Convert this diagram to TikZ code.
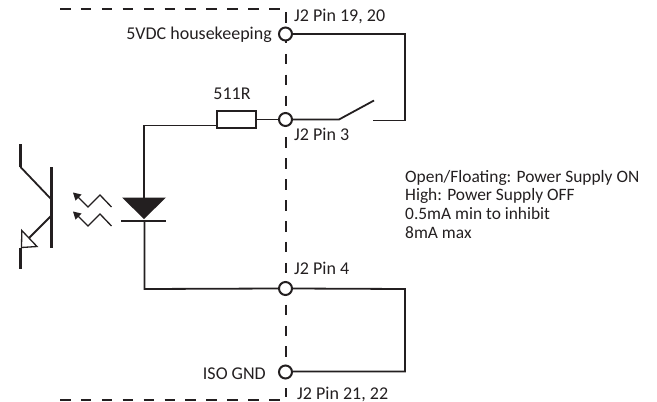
\documentclass[tikz,border=0pt]{standalone}
\usepackage{fontspec}
\setmainfont{Carlito}
\definecolor{ink}{HTML}{231F20}
\tikzset{
 wire/.style={draw=ink,line width=1.8pt},
 thick wire/.style={draw=ink,line width=2.8pt},
 bus/.style={draw=ink,line width=2pt,dash pattern=on 10.5pt off 10.4pt},
 pin/.style={circle,draw=ink,fill=white,line width=2pt,minimum size=13pt,inner sep=0pt},
 lbl/.style={inner sep=0pt,text=ink,font=\fontsize{18}{20}\selectfont},
 note/.style={inner sep=0pt,text=ink,font=\fontsize{17.4}{20}\selectfont,anchor=base west}
}
\begin{document}
\begin{tikzpicture}[x=1pt,y=-1pt]
\useasboundingbox (0,0) rectangle (657,402);
% connector frame
\coordinate (tl) at (60,9);
\coordinate (tr) at (280,9);
\coordinate (bl) at (60,400);
\coordinate (br) at (280,400);
\coordinate (bt) at (285.5,12);
\coordinate (bb) at (285.5,397);
\draw[bus] (tl) -- (tr);
\draw[bus] (bl) -- (br);
\draw[bus] (bt) -- (bb);
% pins
\node[pin] (p5) at (285.5,34) {};
\node[pin] (p3) at (285.5,119.5) {};
\node[pin] (p4) at (285.5,288.5) {};
\node[pin] (pg) at (285.5,372) {};
% right wires
\coordinate (c1) at (405,34);
\coordinate (c2) at (405,120.5);
\coordinate (sw1) at (373,120.5);
\coordinate (sw2) at (339,119.5);
\coordinate (sw3) at (374,100.5);
\draw[wire] (p5) -- (c1) -- (c2) -- (sw1);
\draw[wire] (p3) -- (sw2) -- (sw3);
\coordinate (c3) at (405,289);
\coordinate (c4) at (405,371.5);
\draw[wire] (p4.east) -- (c3) -- (c4) -- (pg.east |- c4);
% resistor
\node[draw=ink,line width=1.7pt,minimum width=39pt,minimum height=17pt,inner sep=0pt] (r) at (236.5,119.5) {};
\draw[wire] (r.east) -- (p3.west);
\coordinate (a1) at (144,125.5);
\coordinate (ra) at (r.west |- a1);
\coordinate (d1) at (144,200);
\draw[wire] (ra) -- (a1) -- (d1);
% diode
\fill[ink] (122,197.5) -- (166,197.5) -- (144,219) -- cycle;
\coordinate (b1) at (121,221);
\coordinate (b2) at (166,221);
\draw[thick wire] (b1) -- (b2);
\coordinate (d2) at (144.5,221);
\coordinate (d3) at (144.5,289);
\draw[wire] (d2) -- (d3) -- (p4.west);
% light arrows
\fill[ink] (73,192.5) -- (81.5,194.5) -- (75.5,200.5) -- cycle;
\fill[ink] (73,211.5) -- (81.5,213.5) -- (75.5,219.5) -- cycle;
\draw[draw=ink,line width=1.3pt] (111.5,207) -- (100,195) -- (88,207) -- (76,195);
\draw[draw=ink,line width=1.3pt] (111.5,226) -- (100,214) -- (88,226) -- (76,214);
% transistor
\coordinate (tb1) at (51.5,167);
\coordinate (tb2) at (51.5,248);
\draw[thick wire] (tb1) -- (tb2);
\coordinate (cc0) at (20.5,144);
\coordinate (cc1) at (20.5,167);
\draw[thick wire] (cc0) -- (cc1);
\coordinate (cc2) at (51,199);
\draw[wire] (cc1) -- (cc2);
\coordinate (ee0) at (51,216);
\coordinate (ee1) at (29,238);
\draw[wire] (ee0) -- (ee1);
\draw[draw=ink,line width=1.3pt,fill=white] (21.8,230.5) -- (37,246.5) -- (21.5,247.5) -- cycle;
\coordinate (ee2) at (20.5,248);
\coordinate (ee3) at (20.5,268.5);
\draw[thick wire] (ee2) -- (ee3);
% labels
\node[lbl,anchor=west] (t1) at (294,16) {J2 Pin 19, 20};
\node[lbl,anchor=east] (t2) at (272,34.5) {5VDC housekeeping};
\node[lbl] (t3) at (232,94) {511R};
\node[lbl,anchor=west] (t4) at (294,134) {J2 Pin 3};
\node[lbl,anchor=west] (t5) at (294,268) {J2 Pin 4};
\node[lbl,anchor=east] (t6) at (266,373.5) {ISO GND};
\node[lbl,anchor=west] (t7) at (297,394) {J2 Pin 21, 22};
\node[note] (n1) at (405,182) {Open/Floating: Power Supply ON};
\node[note] (n2) at (405,200.5) {High: Power Supply OFF};
\node[note] (n3) at (405,219) {0.5mA min to inhibit};
\node[note] (n4) at (405,238) {8mA max};
\end{tikzpicture}
\end{document}
